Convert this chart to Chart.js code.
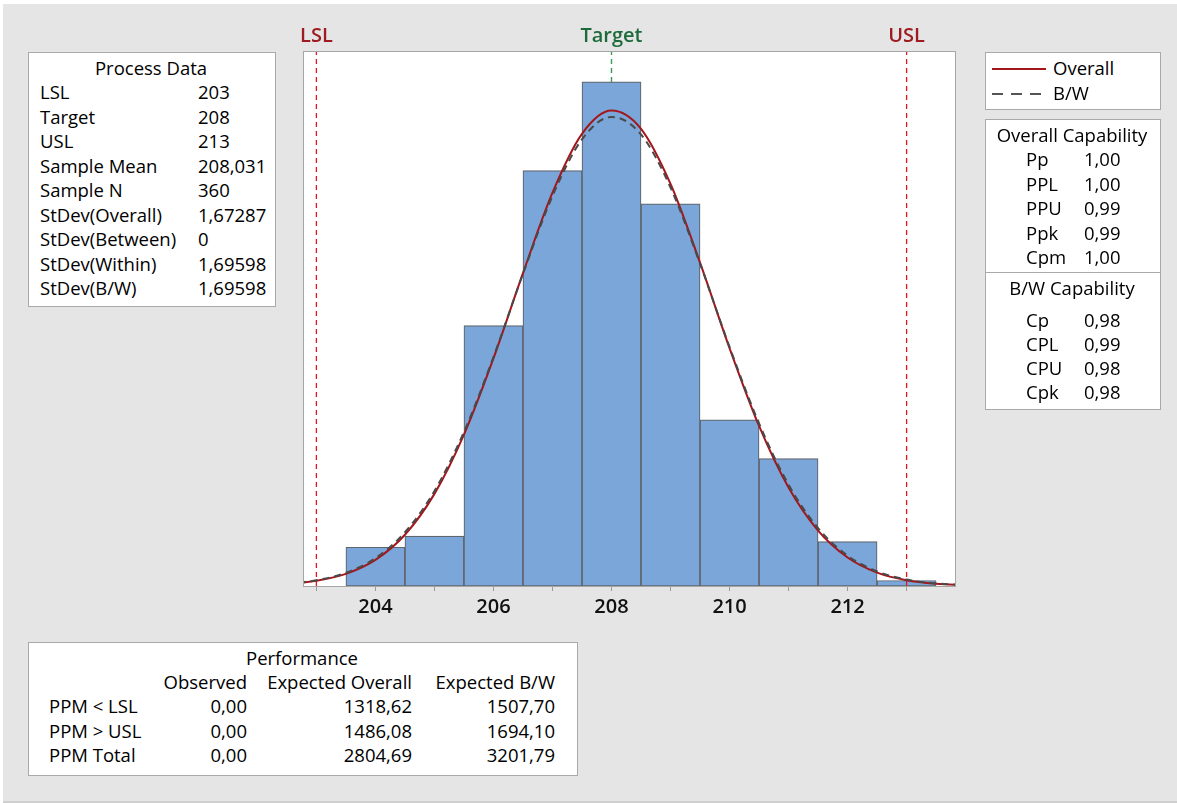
<!DOCTYPE html>
<html>
<head>
<meta charset="utf-8">
<script src="https://cdn.jsdelivr.net/npm/chart.js@4.4.1/dist/chart.umd.min.js"></script>
<style>
  html, body { margin: 0; padding: 0; background: #fff; }
  body { width: 1177px; height: 803px; position: relative; overflow: hidden; font-family: 'Open Sans', 'Noto Sans', sans-serif; color: #000; }
  #panel { position: absolute; left: 3px; top: 4px; width: 1174px; height: 797px; background: #e5e5e5; border-bottom: 2px solid #cfcfcf; }
  #chart { position: absolute; left: 0; top: 0; }
  .box { position: absolute; background: #fff; border: 1px solid #a9a9a9; box-sizing: border-box; }
  .t { position: absolute; font-size: 18.5px; line-height: 22px; white-space: nowrap; font-weight: 500; }
  .c { transform: translateX(-50%); }
  .r { transform: translateX(-100%); }
</style>
</head>
<body>
<div id="panel"></div>
<canvas id="chart" width="1177" height="803"></canvas>
<div id="tables"></div>
<script>
// histogram (bin centres, counts)
const binCenters = [204, 205, 206, 207, 208, 209, 210, 211, 212, 213];
const binCounts = [7, 9, 47, 75, 91, 69, 30, 23, 8, 1];

// fitted curves read at half-unit steps
const curveX = [202.5, 203, 203.5, 204, 204.5, 205, 205.5, 206, 206.5, 207, 207.5, 208, 208.5,
    209, 209.5, 210, 210.5, 211, 211.5, 212, 212.5, 213, 213.5, 214];
const overallY = [0.36, 0.93, 2.19, 4.71, 9.25, 16.63, 27.33, 41.09, 56.48, 71.00, 81.63, 85.84, 82.54,
    72.59, 58.38, 42.95, 28.89, 17.77, 10.00, 5.15, 2.42, 1.04, 0.41, 0.15];
const bwY = [0.42, 1.04, 2.39, 5.02, 9.70, 17.15, 27.81, 41.34, 56.34, 70.40, 80.63, 84.67, 81.51,
    71.93, 58.19, 43.16, 29.35, 18.29, 10.45, 5.48, 2.63, 1.16, 0.47, 0.17];

const lsl = 203, target = 208, usl = 213;
const xTicks = [203, 204, 205, 206, 207, 208, 209, 210, 211, 212, 213];

const processLabels = ['LSL', 'Target', 'USL', 'Sample Mean', 'Sample N', 'StDev(Overall)', 'StDev(Between)', 'StDev(Within)', 'StDev(B/W)'];
const processValues = ['203', '208', '213', '208,031', '360', '1,67287', '0', '1,69598', '1,69598'];
const overallCapLabels = ['Pp', 'PPL', 'PPU', 'Ppk', 'Cpm'];
const overallCapValues = ['1,00', '1,00', '0,99', '0,99', '1,00'];
const bwCapLabels = ['Cp', 'CPL', 'CPU', 'Cpk'];
const bwCapValues = ['0,98', '0,99', '0,98', '0,98'];
const perfColumns = ['Observed', 'Expected Overall', 'Expected B/W'];
const perfRows = ['PPM < LSL', 'PPM > USL', 'PPM Total'];
const perfObserved = ['0,00', '0,00', '0,00'];
const perfOverall = ['1318,62', '1486,08', '2804,69'];
const perfBW = ['1507,70', '1694,10', '3201,79'];

const yMax = 96.4;

function pts(xs, ys) {
    return xs.map((x, i) => ({ x: x, y: ys[i] }));
}

function vline(v) {
    return [{ x: v, y: 0 }, { x: v, y: yMax }];
}

const specLabels = {
    id: 'specLabels',
    beforeDraw(chart) {
        const a = chart.chartArea;
        const ctx = chart.ctx;
        ctx.save();
        ctx.fillStyle = '#fff';
        ctx.fillRect(a.left, a.top, a.right - a.left, a.bottom - a.top);
        ctx.restore();
    },
    afterDraw(chart) {
        const a = chart.chartArea;
        const ctx = chart.ctx;
        const xs = chart.scales.x;
        ctx.save();
        ctx.strokeStyle = '#a6a6a6';
        ctx.lineWidth = 1;
        ctx.strokeRect(a.left - 0.5, a.top - 0.5, a.right - a.left + 1, a.bottom - a.top + 1);
        ctx.font = '600 20px "Open Sans", sans-serif';
        ctx.textAlign = 'center';
        ctx.textBaseline = 'middle';
        ctx.fillStyle = '#9e1b22';
        ctx.fillText('LSL', xs.getPixelForValue(lsl), 36);
        ctx.fillText('USL', xs.getPixelForValue(usl), 36);
        ctx.fillStyle = '#1d6b3b';
        ctx.fillText('Target', xs.getPixelForValue(target), 36);
        ctx.restore();
    }
};

new Chart(document.getElementById('chart'), {
    type: 'line',
    data: {
        datasets: [
            {
                type: 'line', data: pts(curveX, bwY), borderColor: '#4a4a4a', borderWidth: 2,
                borderDash: [7, 5], pointRadius: 0, cubicInterpolationMode: 'monotone', order: 1
            },
            {
                type: 'line', data: pts(curveX, overallY), borderColor: '#a3161b', borderWidth: 2,
                pointRadius: 0, cubicInterpolationMode: 'monotone', order: 2
            },
            {
                type: 'line', data: vline(lsl), borderColor: '#e3161e', borderWidth: 1.3,
                borderDash: [5, 4], pointRadius: 0, order: 3
            },
            {
                type: 'line', data: vline(usl), borderColor: '#e3161e', borderWidth: 1.3,
                borderDash: [5, 4], pointRadius: 0, order: 3
            },
            {
                type: 'bar', data: pts(binCenters, binCounts), backgroundColor: '#7ba6d9',
                borderColor: '#60666e', borderWidth: 1.2, borderSkipped: false,
                barPercentage: 1, categoryPercentage: 1, order: 5
            },
            {
                type: 'line', data: vline(target), borderColor: '#3a9d57', borderWidth: 1.4,
                borderDash: [5, 4], pointRadius: 0, order: 9
            }
        ]
    },
    options: {
        responsive: false,
        animation: false,
        layout: { padding: { left: 304, right: 222, top: 52, bottom: 0 } },
        plugins: { legend: { display: false }, tooltip: { enabled: false } },
        scales: {
            x: {
                type: 'linear', min: 202.79, max: 213.82, offset: false,
                afterBuildTicks: s => { s.ticks = xTicks.map(v => ({ value: v })); },
                afterFit: s => { s.height = 803 - 586; },
                grid: { display: true, drawOnChartArea: false, drawTicks: true, tickLength: 5, color: '#9a9a9a', offset: false },
                border: { display: false },
                ticks: {
                    autoSkip: false, maxRotation: 0, padding: 4, color: '#111',
                    font: { family: '"Open Sans", sans-serif', size: 20, weight: '600' },
                    callback: v => (v % 2 === 0 ? String(v) : '')
                }
            },
            y: { display: false, min: 0, max: yMax }
        }
    },
    plugins: [specLabels]
});

// side tables
const tables = document.getElementById('tables');

function box(x, y, w, h) {
    const d = document.createElement('div');
    d.className = 'box';
    Object.assign(d.style, { left: x + 'px', top: y + 'px', width: w + 'px', height: h + 'px' });
    tables.appendChild(d);
    return d;
}

function text(str, x, y, cls) {
    const d = document.createElement('div');
    d.className = 't' + (cls ? ' ' + cls : '');
    d.textContent = str;
    d.style.left = x + 'px';
    d.style.top = (y - 11) + 'px';
    tables.appendChild(d);
}

box(28, 52, 248, 255);
text('Process Data', 151, 68, 'c');
processLabels.forEach((l, i) => {
    const y = 92 + i * 24.5;
    text(l, 40, y);
    text(processValues[i], 198, y);
});

const leg = box(985, 52, 176, 58);
leg.innerHTML = '<svg width="176" height="58" style="position:absolute;left:0;top:0">' +
    '<line x1="6" y1="16" x2="60" y2="16" stroke="#a3161b" stroke-width="2"/>' +
    '<line x1="6" y1="41" x2="60" y2="41" stroke="#555" stroke-width="2" stroke-dasharray="11,8"/></svg>';
text('Overall', 1053, 68);
text('B/W', 1053, 93);

const cap = box(985, 119, 176, 291);
const div = document.createElement('div');
Object.assign(div.style, { position: 'absolute', left: '0', top: '152px', width: '100%', height: '1px', background: '#a9a9a9' });
cap.appendChild(div);
text('Overall Capability', 1072, 135, 'c');
overallCapLabels.forEach((l, i) => {
    const y = 159 + i * 24.5;
    text(l, 1026, y);
    text(overallCapValues[i], 1084, y);
});
text('B/W Capability', 1072, 288, 'c');
bwCapLabels.forEach((l, i) => {
    const y = 320 + i * 24;
    text(l, 1026, y);
    text(bwCapValues[i], 1084, y);
});

box(28, 642, 550, 134);
text('Performance', 302, 658, 'c');
const colRight = [247, 412, 555];
perfColumns.forEach((c, j) => text(c, colRight[j], 682, 'r'));
perfRows.forEach((r, i) => {
    const y = 706 + i * 24.5;
    text(r, 49, y);
    text(perfObserved[i], colRight[0], y, 'r');
    text(perfOverall[i], colRight[1], y, 'r');
    text(perfBW[i], colRight[2], y, 'r');
});
</script>
</body>
</html>
